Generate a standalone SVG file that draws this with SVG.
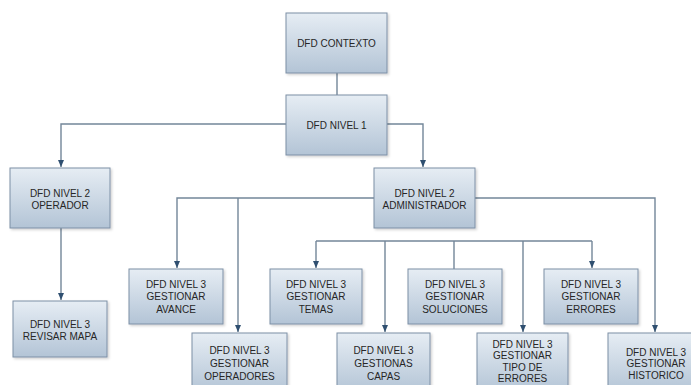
<svg xmlns="http://www.w3.org/2000/svg" width="691" height="385" viewBox="0 0 691 385">
<defs>
<linearGradient id="g" x1="0" y1="0" x2="0" y2="1">
<stop offset="0" stop-color="#e6edf4"/>
<stop offset="1" stop-color="#b3c4d6"/>
</linearGradient>
<marker id="ah" markerWidth="8" markerHeight="10" refX="7" refY="4" orient="auto" markerUnits="userSpaceOnUse" viewBox="0 0 8 8">
<path d="M0,1 L7,4 L0,7 Z" fill="#2f4f70"/>
</marker>
<filter id="sh" x="-10%" y="-10%" width="130%" height="130%">
<feDropShadow dx="1.5" dy="1.5" stdDeviation="1" flood-color="#000" flood-opacity="0.18"/>
</filter>
</defs>
<style>
.box{fill:url(#g);stroke:#7d90a6;stroke-width:1;filter:url(#sh)}
.t{font-family:"Liberation Sans",Arial,sans-serif;font-size:10px;fill:#262626;text-anchor:middle}
.c{fill:none;stroke:#738699;stroke-width:1.4}
.a{marker-end:url(#ah)}
</style>
<rect width="691" height="385" fill="#ffffff"/>
<g id="connectors">
<path class="c" d="M337 73 V95"/>
<path class="c a" d="M286 124 H61 V167"/>
<path class="c a" d="M387 124 H423 V167"/>
<path class="c a" d="M61 228 V300"/>
<path class="c a" d="M374 198 H177 V268"/>
<path class="c a" d="M238 198 V332"/>
<path class="c a" d="M475 198 H655 V332"/>
<path class="c" d="M316 241 H592"/>
<path class="c a" d="M316 241 V268"/>
<path class="c a" d="M385 241 V332"/>
<path class="c" d="M454 241 V269"/>
<path class="c a" d="M523 241 V332"/>
<path class="c a" d="M592 241 V268"/>
</g>
<g id="contexto"><rect class="box" x="286" y="13" width="101" height="60"/><text class="t" x="336.5" y="46.5">DFD CONTEXTO</text></g>
<g id="nivel1"><rect class="box" x="286" y="95" width="101" height="60"/><text class="t" x="336.5" y="128.5">DFD NIVEL  1</text></g>
<g id="operador"><rect class="box" x="10" y="168" width="100" height="60"/><text class="t" x="60" y="196.5">DFD NIVEL 2</text><text class="t" x="60" y="208.5">OPERADOR</text></g>
<g id="revisar"><rect class="box" x="13" y="301" width="94" height="56"/><text class="t" x="60" y="327.5">DFD NIVEL 3</text><text class="t" x="60" y="339.5">REVISAR MAPA</text></g>
<g id="admin"><rect class="box" x="374" y="168" width="101" height="60"/><text class="t" x="424.5" y="196.5">DFD NIVEL 2</text><text class="t" x="424.5" y="208.5">ADMINISTRADOR</text></g>
<g id="avance"><rect class="box" x="129" y="269" width="94" height="55"/><text class="t" x="176" y="287.5">DFD NIVEL 3</text><text class="t" x="176" y="300">GESTIONAR</text><text class="t" x="176" y="312.5">AVANCE</text></g>
<g id="temas"><rect class="box" x="270" y="269" width="92" height="55"/><text class="t" x="316" y="287.5">DFD NIVEL 3</text><text class="t" x="316" y="300">GESTIONAR</text><text class="t" x="316" y="312.5">TEMAS</text></g>
<g id="soluciones"><rect class="box" x="408" y="269" width="94" height="55"/><text class="t" x="455" y="287.5">DFD NIVEL 3</text><text class="t" x="455" y="300">GESTIONAR</text><text class="t" x="455" y="312.5">SOLUCIONES</text></g>
<g id="errores"><rect class="box" x="544" y="269" width="94" height="55"/><text class="t" x="591" y="287.5">DFD NIVEL 3</text><text class="t" x="591" y="300">GESTIONAR</text><text class="t" x="591" y="312.5">ERRORES</text></g>
<g id="operadores"><rect class="box" x="192" y="333" width="95" height="60"/><text class="t" x="239.5" y="353.5">DFD NIVEL 3</text><text class="t" x="239.5" y="366.5">GESTIONAR</text><text class="t" x="239.5" y="379.5">OPERADORES</text></g>
<g id="capas"><rect class="box" x="337" y="333" width="93" height="60"/><text class="t" x="383.5" y="353.5">DFD NIVEL 3</text><text class="t" x="383.5" y="366.5">GESTIONAS</text><text class="t" x="383.5" y="379.5">CAPAS</text></g>
<g id="tipoerrores"><rect class="box" x="477" y="333" width="91" height="60"/><text class="t" x="522.5" y="347.5">DFD NIVEL 3</text><text class="t" x="522.5" y="359">GESTIONAR</text><text class="t" x="522.5" y="370.5">TIPO DE</text><text class="t" x="522.5" y="382">ERRORES</text></g>
<g id="historico"><rect class="box" x="608" y="333" width="95" height="60"/><text class="t" x="656" y="355.5">DFD NIVEL 3</text><text class="t" x="656" y="367">GESTIONAR</text><text class="t" x="656" y="378.5">HISTORICO</text></g>
</svg>
